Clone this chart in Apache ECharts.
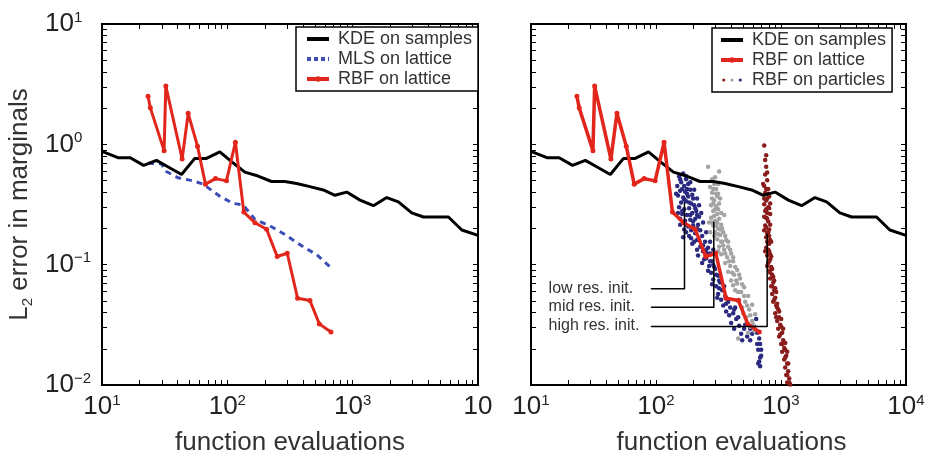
<!DOCTYPE html>
<html><head><meta charset="utf-8">
<script src="https://cdn.jsdelivr.net/npm/echarts@6.0.0/dist/echarts.min.js"></script>
<style>html,body{margin:0;padding:0;background:#fff}#c{width:931px;height:461px}</style>
</head><body><div id="c"></div>
<script>
// ---------- data ----------
const kdeX = [10, 13.4, 16.8, 21.5, 27.2, 32.7, 43.1, 55.0, 68.2, 87.1, 108, 138, 176, 225, 288, 357, 456, 583, 722, 896, 1145, 1463, 1870, 2317, 2959, 3671, 5810, 7427, 10000];
const kdeY = [0.875, 0.774, 0.774, 0.668, 0.736, 0.66, 0.562, 0.764, 0.764, 0.865, 0.719, 0.587, 0.545, 0.491, 0.491, 0.473, 0.445, 0.418, 0.377, 0.401, 0.344, 0.309, 0.361, 0.333, 0.269, 0.249, 0.249, 0.194, 0.175];

const rbfX = [23.3, 24.3, 31.3, 32.3, 43.6, 48.7, 57.8, 66.9, 80.4, 98.4, 116, 135.4, 166, 205.6, 250, 300.6, 363.6, 456, 541.6, 671];
const rbfY = [2.51, 2.01, 0.886, 3.05, 0.755, 1.81, 0.966, 0.467, 0.519, 0.497, 1.04, 0.2735, 0.223, 0.197, 0.117, 0.1245, 0.0526, 0.0504, 0.0322, 0.0276];

const mlsX = [23.3, 29.8, 32.3, 40.4, 53.3, 64.1, 87.1, 111, 134, 166, 219, 288, 403, 516, 671];
const mlsY = [0.697, 0.689, 0.5975, 0.528, 0.497, 0.467, 0.37, 0.323, 0.313, 0.2375, 0.21, 0.178, 0.1408, 0.121, 0.0945];

const lowResParticles = [
 [153,0.542],[165,0.572],[174,0.513],[159,0.485],[148,0.451],[168,0.451],[181,0.468],[156,0.411],[171,0.403],[188,0.419],
 [150,0.375],[165,0.361],[181,0.368],[195,0.382],[159,0.329],[174,0.336],[191,0.323],[153,0.300],[168,0.289],[184,0.295],
 [202,0.311],[162,0.264],[177,0.259],[195,0.269],[210,0.279],[171,0.232],[188,0.236],[206,0.241],[156,0.241],[221,0.250],
 [181,0.208],[198,0.212],[217,0.215],[174,0.186],[226,0.193],[206,0.182],[165,0.169],[234,0.173],[213,0.160],[247,0.155],
 [195,0.149],[226,0.141],[261,0.138],[238,0.129],[271,0.124],[217,0.119],[252,0.113],[281,0.107],[266,0.0974],[234,0.103],
 [297,0.0922],[276,0.0856],[314,0.0810],[287,0.0752],[326,0.0712],[303,0.0661],[338,0.0614],[314,0.0570],[358,0.0550],[332,0.0510],
 [378,0.0492],[392,0.0440],[364,0.0409],[414,0.0394],[438,0.0353],[399,0.0328],[463,0.0310],[507,0.0293],[480,0.0267],[536,0.0253],
 [588,0.0267],[669,0.0244],[681,0.0219],[657,0.0196],[694,0.0175],[669,0.0157],[681,0.0143],[633,0.0353],[430,0.0440],[168,0.196],
 [162,0.426],[177,0.389],[168,0.348],[184,0.329],[162,0.279],[188,0.259],[198,0.228],[174,0.215],[213,0.200],[191,0.166],
 [252,0.133],[287,0.0992],[320,0.0637],[345,0.0457],[489,0.0235],[567,0.0293],[645,0.0272],[694,0.0196],
 [145,0.389],[156,0.513],[177,0.426],[198,0.355],[206,0.295],[213,0.259],[150,0.269],[156,0.215],[191,0.193],[184,0.173],
 [202,0.155],[221,0.160],[238,0.144],[213,0.133],[257,0.124],[243,0.111],[271,0.107],[292,0.0956],[261,0.0888],[303,0.0825],
 [281,0.0686],[320,0.0738],[351,0.0661],[309,0.0530],[364,0.0474],[385,0.0380],[422,0.0424],[454,0.0366],[422,0.0293],[517,0.0316],
 [567,0.0235],[610,0.0305],[645,0.0219],[681,0.0169],[657,0.0151],[174,0.542],[188,0.485],[202,0.419],[213,0.355],[221,0.311],
 [230,0.269],[238,0.224],[252,0.186],[271,0.155],[287,0.133]
];
const midResParticles = [
 [261,0.652],[320,0.594],[292,0.468],[303,0.426],[281,0.396],[309,0.368],[292,0.342],[276,0.311],[303,0.306],[320,0.323],
 [287,0.279],[309,0.264],[276,0.245],[297,0.232],[320,0.241],[287,0.212],[314,0.200],[332,0.215],[297,0.186],[326,0.176],
 [345,0.186],[309,0.163],[338,0.155],[364,0.160],[320,0.141],[351,0.133],[378,0.141],[332,0.122],[371,0.115],[399,0.124],
 [358,0.103],[392,0.0974],[414,0.107],[378,0.0872],[422,0.0825],[446,0.0905],[399,0.0738],[446,0.0699],[471,0.0766],[430,0.0614],
 [480,0.0592],[507,0.0649],[463,0.0510],[517,0.0492],[546,0.0550],[489,0.0440],[556,0.0424],[588,0.0465],[526,0.0366],[588,0.0340],
 [567,0.0305],[610,0.0283],[454,0.0244],[621,0.0387],[351,0.259],[271,0.186],[414,0.0673],
 [287,0.426],[314,0.389],[281,0.355],[297,0.289],[281,0.224],[303,0.212],[326,0.196],[292,0.173],[345,0.144],[314,0.129],
 [281,0.513],[297,0.532],[271,0.442],[314,0.468],[303,0.389],[326,0.355],[287,0.323],[314,0.289],[332,0.269],[292,0.254],
 [266,0.224],[309,0.224],[338,0.200],[314,0.179],[358,0.173],[332,0.155],[378,0.155],[358,0.124],[392,0.133],[414,0.115],
 [385,0.107],[430,0.0956],[407,0.0856],[463,0.0825],[438,0.0738],[489,0.0686],[454,0.0592],[507,0.0550],[536,0.0457],[498,0.0394],
 [567,0.0380],[599,0.0316],[546,0.0272]
];
const highResParticles = [
 [734,0.978],[747,0.741],[761,0.652],[747,0.562],[775,0.503],[734,0.451],[790,0.426],[747,0.396],[804,0.368],[761,0.342],
 [734,0.317],[790,0.300],[747,0.279],[819,0.264],[761,0.245],[790,0.228],[747,0.212],[804,0.196],[775,0.182],[761,0.169],
 [819,0.160],[790,0.149],[761,0.138],[804,0.129],[775,0.119],[819,0.111],[790,0.103],[835,0.0956],[804,0.0888],[850,0.0825],
 [819,0.0766],[866,0.0712],[835,0.0661],[882,0.0614],[850,0.0570],[899,0.0530],[866,0.0492],[915,0.0457],[950,0.0424],[899,0.0394],
 [967,0.0366],[932,0.0340],[985,0.0316],[950,0.0293],[1022,0.0272],[967,0.0253],[1041,0.0235],[1004,0.0219],[1061,0.0203],[1022,0.0189],
 [1101,0.0175],[1061,0.0163],[1121,0.0151],[1081,0.0140],[1142,0.0130],[1101,0.0121],[1163,0.0113],[1121,0.0105],[1185,0.0101],
 [775,0.241],[804,0.173],[835,0.155],
 [761,0.426],[775,0.355],[804,0.295],[775,0.269],[761,0.204],[790,0.186],[775,0.155],[790,0.133],[819,0.122],[804,0.107],
 [850,0.0922],[882,0.0738],[915,0.0592],[932,0.0440],[1004,0.0353],[1041,0.0293],[1081,0.0223],[1121,0.0189],
 [720,0.468],[790,0.389],[734,0.355],[819,0.323],[761,0.289],[734,0.250],[819,0.215],[734,0.193],[804,0.149],[747,0.129],
 [835,0.117],[775,0.0974],[819,0.0856],[866,0.0795],[850,0.0661],[899,0.0637],[882,0.0510],[932,0.0474],[967,0.0409],[915,0.0366],
 [1004,0.0305],[985,0.0263],[1022,0.0219],[1081,0.0196],[1081,0.0169],[1142,0.0151],[1121,0.0121],[1163,0.0105],[761,0.813],[775,0.583]
];

const annLow  = [[91.4,0.0632],[169,0.0632],[169,0.329]];
const annMid  = [[91.4,0.0443],[290,0.0443],[290,0.226]];
const annHigh = [[91.4,0.0306],[775,0.0306],[775,0.18]];
const annTexts = ['low res. init.', 'mid res. init.', 'high res. init.'];

const xTickLabels = [10, 100, 1000, 10000];
const yTickLabels = [0.01, 0.1, 1, 10];
const xTicks = [10,20,30,40,50,60,70,80,90,100,200,300,400,500,600,700,800,900,1000,2000,3000,4000,5000,6000,7000,8000,9000,10000];
const yTicks = [0.01,0.02,0.03,0.04,0.05,0.06,0.07,0.08,0.09,0.1,0.2,0.3,0.4,0.5,0.6,0.7,0.8,0.9,1,2,3,4,5,6,7,8,9,10];

// ---------- styles ----------
const FONT = '"Liberation Sans", Arial, sans-serif';
const RED = '#e2261c', BLUE = '#3c4db8', NAVY = '#2b2a80', GRAY = '#a3a3a3', DRED = '#8a1c1c';
const rich = {
  b: {fontSize: 26, fontFamily: FONT, color: '#222', lineHeight: 28},
  s: {fontSize: 15, fontFamily: FONT, color: '#222', lineHeight: 14, verticalAlign: 'top'}
};
function expFmt(plainLast) {
  return function (v) {
    const e = Math.round(Math.log10(v));
    if (plainLast && e === 4) return '{b|10}';
    return '{b|10}{s|' + (e < 0 ? '\u2212' + (-e) : e) + '}';
  };
}
const zip = (a, b) => a.map((v, i) => [v, b[i]]);

function xAxisPair(g, plainLast, namePad) {
  return [
    {type: 'log', logBase: 10, gridIndex: g, min: 10, max: 10000, position: 'bottom',
     axisLine: {show: false}, splitLine: {show: false},
     axisTick: {show: true, inside: true, length: 5, customValues: xTicks, lineStyle: {color: '#000', width: 1}},
     axisLabel: {customValues: xTickLabels, formatter: expFmt(plainLast), rich: rich, margin: 8},
     name: 'function evaluations', nameLocation: 'middle', nameGap: 45,
     nameTextStyle: {fontSize: 26, fontFamily: FONT, color: '#333', padding: namePad}},
    {type: 'log', logBase: 10, gridIndex: g, min: 10, max: 10000, position: 'top',
     axisLine: {show: false}, splitLine: {show: false},
     axisTick: {show: true, inside: true, length: 5, customValues: xTicks, lineStyle: {color: '#000', width: 1}},
     axisLabel: {show: false}}
  ];
}
function yAxisPair(g, labels) {
  const left = {type: 'log', logBase: 10, gridIndex: g, min: 0.01, max: 10, position: 'left',
     axisLine: {show: false}, splitLine: {show: false},
     axisTick: {show: true, inside: true, length: 5, customValues: yTicks, lineStyle: {color: '#000', width: 1}},
     axisLabel: {show: labels, customValues: yTickLabels, formatter: expFmt(false), rich: rich, margin: 57, align: 'left'}};
  if (labels) {
    left.name = '{a|L}{sub|2}{a| error in marginals}';
    left.nameLocation = 'middle';
    left.nameGap = 67;
    left.nameRotate = 90;
    left.nameTextStyle = {rich: {
      a: {fontSize: 26, fontFamily: FONT, color: '#333', lineHeight: 30},
      sub: {fontSize: 15, fontFamily: FONT, color: '#333', lineHeight: 14, verticalAlign: 'bottom'}
    }};
  }
  return [left,
    {type: 'log', logBase: 10, gridIndex: g, min: 0.01, max: 10, position: 'right',
     axisLine: {show: false}, splitLine: {show: false},
     axisTick: {show: true, inside: true, length: 5, customValues: yTicks, lineStyle: {color: '#000', width: 1}},
     axisLabel: {show: false}}];
}

const dotsSvg = "<svg xmlns='http://www.w3.org/2000/svg' width='24' height='6'><circle cx='3' cy='3' r='1.7' fill='" + DRED + "'/><circle cx='12' cy='3' r='1.7' fill='" + GRAY + "'/><circle cx='21' cy='3' r='1.7' fill='" + NAVY + "'/></svg>";
const dotsIcon = 'image://data:image/svg+xml;charset=utf-8,' + encodeURIComponent(dotsSvg);
const noMarker = {color: 'transparent', borderColor: 'transparent', borderWidth: 0};

function annSeries(d, txt) {
  return {type: 'line', xAxisIndex: 2, yAxisIndex: 2, silent: true, z: 6,
    symbol: 'circle', symbolSize: 1, showSymbol: true, animation: false,
    lineStyle: {color: '#000', width: 1.5}, itemStyle: {color: '#000'},
    data: d.map((p, i) => i === 0 ? {value: p, label: {show: true, formatter: txt, position: [-102, 0], align: 'left', verticalAlign: 'middle', fontSize: 16, fontFamily: FONT, color: '#333'}} : {value: p})
  };
}

const legendCommon = {
  orient: 'vertical', itemWidth: 22, itemHeight: 7, itemGap: 2,
  borderColor: '#000', borderWidth: 1.5, backgroundColor: '#fff', borderRadius: 0,
  textStyle: {fontSize: 18, fontFamily: FONT, color: '#333', lineHeight: 18, padding: [0, 0, 0, 4]},
  selectedMode: false
};
const kdeLeg = {name: 'KDE on samples', itemStyle: noMarker, lineStyle: {width: 4}};
const mlsLeg = {name: 'MLS on lattice', itemStyle: noMarker, lineStyle: {width: 4, type: [4, 3]}};
const rbfLeg = {name: 'RBF on lattice', lineStyle: {width: 4}};

const chart = echarts.init(document.getElementById('c'), null, {renderer: 'canvas'});
chart.setOption({
  animation: false,
  backgroundColor: '#fff',
  grid: [
    {left: 102, top: 24, width: 376, height: 374, show: true, borderColor: '#000', borderWidth: 2, backgroundColor: 'transparent'},
    {left: 531, top: 24, width: 375, height: 374, show: true, borderColor: '#000', borderWidth: 2, backgroundColor: 'transparent'}
  ],
  xAxis: [...xAxisPair(0, true, [0, 0, 0, 0]), ...xAxisPair(1, false, [0, 0, 0, 26])],
  yAxis: [...yAxisPair(0, true), ...yAxisPair(1, false)],
  legend: [
    Object.assign({}, legendCommon, {left: 296, top: 27, padding: [3, 6, 3, 9],
      data: [kdeLeg, mlsLeg, rbfLeg]}),
    Object.assign({}, legendCommon, {left: 712, top: 28, padding: [3, 6, 3, 7],
      data: [kdeLeg, rbfLeg, {name: 'RBF on particles', icon: dotsIcon}]})
  ],
  series: [
    {name: 'KDE on samples', type: 'line', xAxisIndex: 0, yAxisIndex: 0, data: zip(kdeX, kdeY), symbol: 'none', z: 4,
     lineStyle: {color: '#000', width: 3}, itemStyle: {color: '#000'}},
    {name: 'MLS on lattice', type: 'line', xAxisIndex: 0, yAxisIndex: 0, data: zip(mlsX, mlsY), symbol: 'none', z: 3,
     lineStyle: {color: BLUE, width: 3, type: [6, 5]}, itemStyle: {color: BLUE}},
    {name: 'RBF on lattice', type: 'line', xAxisIndex: 0, yAxisIndex: 0, data: zip(rbfX, rbfY), symbol: 'circle', symbolSize: 5, z: 5,
     lineStyle: {color: RED, width: 3}, itemStyle: {color: RED}},

    {name: 'RBF on particles', type: 'scatter', xAxisIndex: 2, yAxisIndex: 2, data: lowResParticles, symbolSize: 4.5, z: 2,
     itemStyle: {color: NAVY, opacity: 1}},
    {name: 'RBF on particles', type: 'scatter', xAxisIndex: 2, yAxisIndex: 2, data: midResParticles, symbolSize: 4.5, z: 2,
     itemStyle: {color: GRAY, opacity: 1}},
    {name: 'RBF on particles', type: 'scatter', xAxisIndex: 2, yAxisIndex: 2, data: highResParticles, symbolSize: 4.5, z: 2,
     itemStyle: {color: DRED, opacity: 1}},
    {name: 'KDE on samples', type: 'line', xAxisIndex: 2, yAxisIndex: 2, data: zip(kdeX, kdeY), symbol: 'none', z: 4,
     lineStyle: {color: '#000', width: 3}, itemStyle: {color: '#000'}},
    {name: 'RBF on lattice', type: 'line', xAxisIndex: 2, yAxisIndex: 2, data: zip(rbfX, rbfY), symbol: 'circle', symbolSize: 5, z: 5,
     lineStyle: {color: RED, width: 3.5}, itemStyle: {color: RED}},
    annSeries(annLow, annTexts[0]),
    annSeries(annMid, annTexts[1]),
    annSeries(annHigh, annTexts[2])
  ]
});
</script></body></html>
